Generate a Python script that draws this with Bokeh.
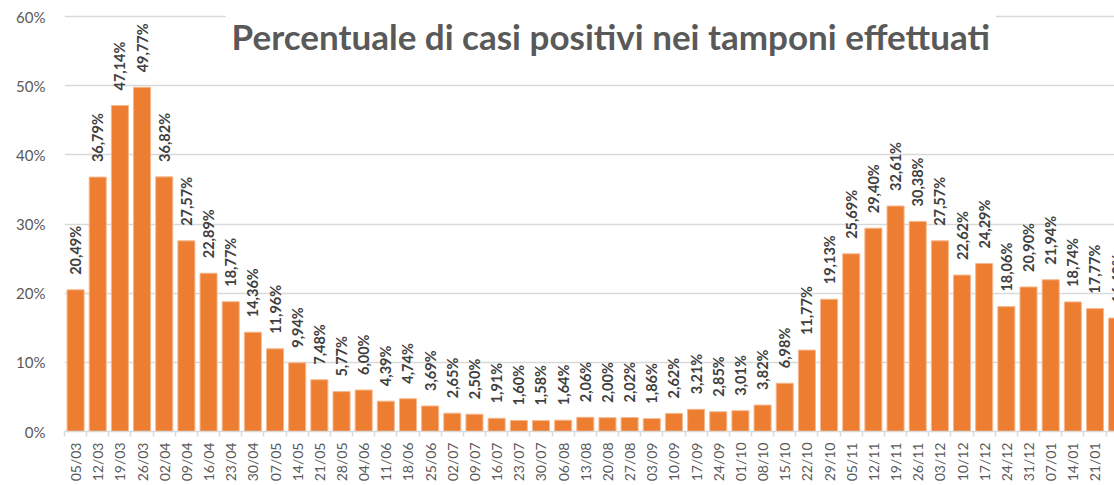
import math
from bokeh.plotting import figure
from bokeh.models import (ColumnDataSource, Range1d, FixedTicker,
                          PrintfTickFormatter, LabelSet, Label)
from bokeh.core.properties import value
from bokeh.embed import file_html
from bokeh.resources import INLINE

dates = ["05/03", "12/03", "19/03", "26/03", "02/04", "09/04", "16/04", "23/04",
         "30/04", "07/05", "14/05", "21/05", "28/05", "04/06", "11/06", "18/06",
         "25/06", "02/07", "09/07", "16/07", "23/07", "30/07", "06/08", "13/08",
         "20/08", "27/08", "03/09", "10/09", "17/09", "24/09", "01/10", "08/10",
         "15/10", "22/10", "29/10", "05/11", "12/11", "19/11", "26/11", "03/12",
         "10/12", "17/12", "24/12", "31/12", "07/01", "14/01", "21/01", "28/01"]

values = [20.49, 36.79, 47.14, 49.77, 36.82, 27.57, 22.89, 18.77,
          14.36, 11.96, 9.94, 7.48, 5.77, 6.00, 4.39, 4.74,
          3.69, 2.65, 2.50, 1.91, 1.60, 1.58, 1.64, 2.06,
          2.00, 2.02, 1.86, 2.62, 3.21, 2.85, 3.01, 3.82,
          6.98, 11.77, 19.13, 25.69, 29.40, 32.61, 30.38, 27.57,
          22.62, 24.29, 18.06, 20.90, 21.94, 18.74, 17.77, 16.40]

y_ticks = [0, 10, 20, 30, 40, 50, 60]

title_text = "Percentuale di casi positivi nei tamponi effettuati"

idx = list(range(len(dates)))
labels = [f"{v:.2f}".replace(".", ",") + "%" for v in values]
src = ColumnDataSource(dict(x=idx, v=values, lab=labels))

p = figure(width=1114, height=485,
           x_range=Range1d(-0.5, 46.88), y_range=Range1d(0, 60.3),
           output_backend="svg", toolbar_location=None,
           min_border_left=64, min_border_right=0,
           min_border_top=14, min_border_bottom=54)
p.outline_line_color = None
p.background_fill_color = "white"

p.vbar(x="x", top="v", width=0.77, source=src,
       fill_color="#ED7D31", line_color="#F6B98F", line_width=1)

# y axis
p.yaxis.ticker = FixedTicker(ticks=y_ticks)
p.yaxis.formatter = PrintfTickFormatter(format="%d%%")
p.yaxis.axis_line_color = None
p.yaxis.major_tick_line_color = None
p.yaxis.minor_tick_line_color = None
p.yaxis.major_tick_out = 0
p.yaxis.major_label_standoff = 19
p.yaxis.major_label_text_font = "Lato"
p.yaxis.major_label_text_font_size = "15px"
p.yaxis.major_label_text_color = "#595959"

p.ygrid.ticker = FixedTicker(ticks=y_ticks)
p.ygrid.grid_line_color = "#d9d9d9"
p.ygrid.grid_line_width = 1.5
p.xgrid.visible = False

# x axis
p.xaxis.ticker = FixedTicker(ticks=idx, minor_ticks=[i - 0.5 for i in range(len(dates) + 1)])
p.xaxis.major_label_overrides = {i: d for i, d in enumerate(dates)}
p.xaxis.major_label_orientation = math.pi / 2
p.xaxis.axis_line_color = "#d9d9d9"
p.xaxis.axis_line_width = 1.5
p.xaxis.major_tick_line_color = None
p.xaxis.major_tick_out = 5
p.xaxis.major_tick_in = 0
p.xaxis.minor_tick_line_color = "#d9d9d9"
p.xaxis.minor_tick_line_width = 1.5
p.xaxis.minor_tick_out = 5
p.xaxis.minor_tick_in = 0
p.xaxis.major_label_standoff = 6
p.xaxis.major_label_text_font = "Lato"
p.xaxis.major_label_text_font_size = "14px"
p.xaxis.major_label_text_color = "#595959"

# data labels
ls = LabelSet(x="x", y="v", text="lab", source=src,
              angle=math.pi / 2, text_align="left", text_baseline="middle",
              y_offset=15, text_font=value("Lato"), text_font_style="bold",
              text_font_size="14.5px", text_color="#404040")
p.add_layout(ls)

# title (drawn inside plot with white background)
title = Label(x=6.77, y=57.16, text=title_text, text_font="Lato",
              text_font_style="bold", text_font_size="35px",
              text_color="#595959", text_baseline="alphabetic",
              background_fill_color="white", padding=6)
p.add_layout(title)

open("out.html", "w").write(file_html(p, INLINE))
